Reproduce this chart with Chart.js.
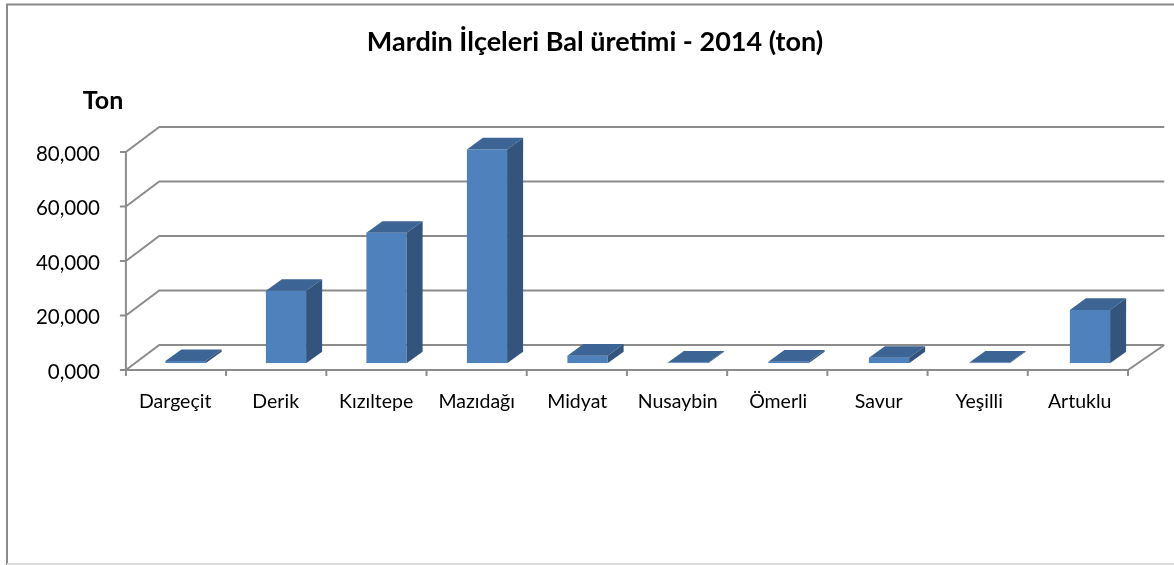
<!DOCTYPE html>
<html>
<head>
<meta charset="utf-8">
<script src="https://cdn.jsdelivr.net/npm/chart.js@4.4.1/dist/chart.umd.min.js"></script>
<style>
  html, body { margin: 0; padding: 0; background: #fff; }
  #wrap { width: 1174px; height: 565px; position: relative; }
</style>
</head>
<body>
<div id="wrap"><canvas id="c" width="1174" height="565"></canvas></div>
<script>
// Honey production by district, Mardin, 2014 (tons)
const districts = ['Dargeçit', 'Derik', 'Kızıltepe', 'Mazıdağı', 'Midyat', 'Nusaybin', 'Ömerli', 'Savur', 'Yeşilli', 'Artuklu'];
const honeyTons = [0.8, 26.6, 47.9, 78.5, 2.8, 0.3, 0.6, 2.0, 0.3, 19.6];
const yTickValues = [0, 20, 40, 60, 80];
const chartTitle = 'Mardin İlçeleri Bal üretimi - 2014 (ton)';
const yAxisTitle = 'Ton';

// 3D box geometry, relative to the plane the bars stand in
const FRONT = { dxL: -9.35, dxR: -12.25, dy: 6.7 };
const BACK = { dxL: 24, dxR: 24, dy: -18.3 };
const BAR_DEPTH = { dx: 16, dy: -11.6 };
const GRID_COLOR = '#8c8c8c';
const FONT = 'Lato, "Open Sans", sans-serif';

const fmt = v => v.toFixed(3).replace('.', ',');

const box3d = {
  id: 'box3d',
  beforeDraw(chart) {
    const ctx = chart.ctx;
    ctx.save();
    ctx.fillStyle = '#fff';
    ctx.fillRect(0, 0, chart.width, chart.height);
    // outer frame
    ctx.strokeStyle = '#8a8a8a';
    ctx.lineWidth = 2;
    ctx.beginPath();
    ctx.moveTo(7, chart.height);
    ctx.lineTo(7, 4.5);
    ctx.lineTo(chart.width, 4.5);
    ctx.stroke();
    ctx.strokeStyle = '#dcdcdc';
    ctx.beginPath();
    ctx.moveTo(7, 564);
    ctx.lineTo(chart.width, 564);
    ctx.stroke();
    // titles
    ctx.fillStyle = '#000';
    ctx.textBaseline = 'alphabetic';
    ctx.textAlign = 'center';
    ctx.font = 'bold 27px ' + FONT;
    ctx.fillText(chartTitle, 595, 51);
    ctx.font = 'bold 25px ' + FONT;
    ctx.fillText(yAxisTitle, 103, 109);
    ctx.restore();
  },
  beforeDatasetsDraw(chart) {
    const ctx = chart.ctx;
    const a = chart.chartArea;
    const ys = chart.scales.y;
    const fL = a.left + FRONT.dxL, fR = a.right + FRONT.dxR;
    const bL = a.left + BACK.dxL, bR = a.right + BACK.dxR;
    const yf = v => ys.getPixelForValue(v) + FRONT.dy;
    const yb = v => ys.getPixelForValue(v) + BACK.dy;
    ctx.save();
    ctx.strokeStyle = GRID_COLOR;
    ctx.lineWidth = 2;
    ctx.lineCap = 'butt';
    ctx.beginPath();
    yTickValues.forEach(v => {
      // back wall gridline and left wall diagonal
      ctx.moveTo(fL, yf(v));
      ctx.lineTo(bL, yb(v));
      ctx.lineTo(bR, yb(v));
      // value tick
      ctx.moveTo(fL - 6, yf(v));
      ctx.lineTo(fL, yf(v));
    });
    const top = yTickValues[yTickValues.length - 1];
    // front edge of the side wall
    ctx.moveTo(fL, yf(top));
    ctx.lineTo(fL, yf(0) + 6);
    // floor front edge and right edge
    ctx.moveTo(fL, yf(0));
    ctx.lineTo(fR, yf(0));
    ctx.lineTo(bR, yb(0));
    // category ticks
    const n = districts.length;
    for (let i = 0; i <= n; i++) {
      const x = fL + (fR - fL) * i / n;
      ctx.moveTo(x, yf(0));
      ctx.lineTo(x, yf(0) + 6);
    }
    ctx.stroke();
    ctx.restore();
  },
  afterDatasetsDraw(chart) {
    const ctx = chart.ctx;
    const meta = chart.getDatasetMeta(0);
    ctx.save();
    meta.data.forEach(bar => {
      const { x, y, base, width } = bar.getProps(['x', 'y', 'base', 'width'], true);
      const l = x - width / 2, r = x + width / 2;
      const dx = BAR_DEPTH.dx, dy = BAR_DEPTH.dy;
      // top face
      ctx.fillStyle = '#3c6595';
      ctx.beginPath();
      ctx.moveTo(l, y);
      ctx.lineTo(r, y);
      ctx.lineTo(r + dx, y + dy);
      ctx.lineTo(l + dx, y + dy);
      ctx.closePath();
      ctx.fill();
      // side face
      ctx.fillStyle = '#33547d';
      ctx.beginPath();
      ctx.moveTo(r, y);
      ctx.lineTo(r + dx, y + dy);
      ctx.lineTo(r + dx, base + dy);
      ctx.lineTo(r, base);
      ctx.closePath();
      ctx.fill();
    });
    ctx.restore();
  }
};

new Chart(document.getElementById('c'), {
  type: 'bar',
  data: {
    labels: districts,
    datasets: [{
      label: chartTitle,
      data: honeyTons,
      backgroundColor: '#4f81bd',
      borderWidth: 0,
      categoryPercentage: 1,
      barPercentage: 0.4
    }]
  },
  options: {
    responsive: false,
    animation: false,
    devicePixelRatio: 1,
    layout: { padding: { left: 0, right: 33.75, top: 145.3, bottom: 141.7 } },
    plugins: {
      legend: { display: false },
      title: { display: false },
      tooltip: { enabled: false }
    },
    scales: {
      x: {
        type: 'category',
        grid: { display: false, drawTicks: false },
        border: { display: false },
        ticks: {
          color: '#000',
          font: { family: FONT, size: 19.5 },
          labelOffset: -10.3,
          padding: 27,
          maxRotation: 0,
          autoSkip: false
        },
        afterFit: s => { s.height = 60; }
      },
      y: {
        min: 0,
        max: 80,
        grid: { display: false, drawTicks: false },
        border: { display: false },
        afterBuildTicks: s => { s.ticks = yTickValues.map(v => ({ value: v })); },
        ticks: {
          color: '#000',
          font: { family: FONT, size: 20.5 },
          labelOffset: 8.7,
          padding: 35.25,
          callback: v => fmt(v)
        },
        afterFit: s => { s.width = 135.25; }
      }
    }
  },
  plugins: [box3d]
});
</script>
</body>
</html>
